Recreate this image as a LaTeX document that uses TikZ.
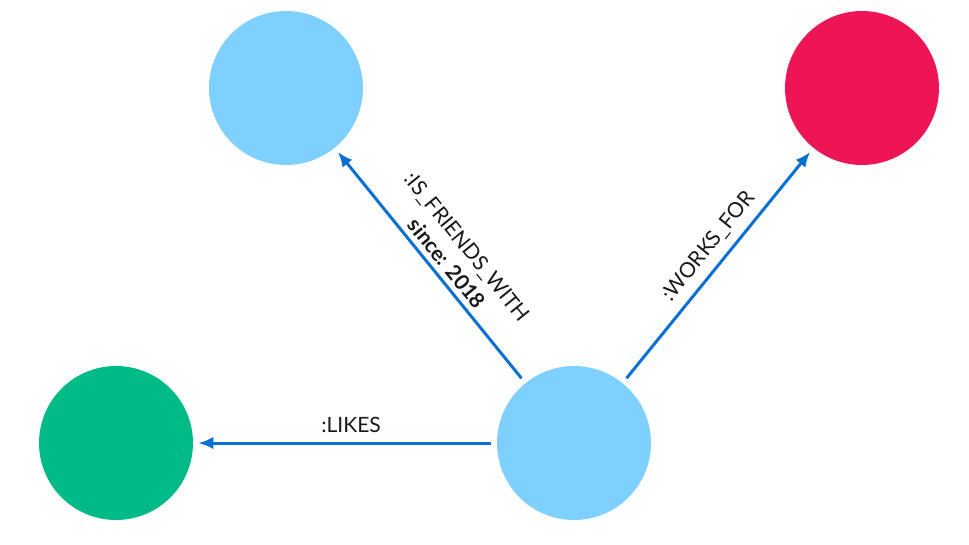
\documentclass[tikz,border=0pt]{standalone}
\usepackage{fontspec}
\setmainfont{Lato}
\usetikzlibrary{arrows.meta}
\definecolor{personblue}{RGB}{125,208,255}
\definecolor{companyred}{RGB}{237,21,86}
\definecolor{thinggreen}{RGB}{0,186,136}
\definecolor{relblue}{RGB}{10,112,212}
\newcommand*{\reltextstyle}{\fontsize{12}{15}\selectfont}

\tikzset{
   entity/.style = {circle, minimum size=3.08cm, inner sep=0pt},
   rel/.style    = {relblue, line width=1.7pt,
                    -{Latex[length=0.3cm,width=0.25cm]},
                    shorten <=0.12cm, shorten >=0.1cm},
   rellabel/.style = {font=\reltextstyle, text=black!90, sloped, above,
                      inner sep=3pt}
}

\begin{document}
\begin{tikzpicture}[x=0.02cm, y=-0.02cm]
   \useasboundingbox (0,0) rectangle (969,544);

   \node[entity, fill=personblue] (friend)  at (286, 88) {};
   \node[entity, fill=companyred] (company) at (862, 88) {};
   \node[entity, fill=thinggreen] (thing)   at (116,443) {};
   \node[entity, fill=personblue] (person)  at (574,443) {};

   \draw[rel] (person) -- (friend)
      node[rellabel, align=center, pos=0.47]
      {:IS\_FRIENDS\_WITH\\[0pt] \textbf{since: 2018}};
   \draw[rel] (person) -- (company)
      node[rellabel, pos=0.53, inner sep=5pt] {:WORKS\_FOR};
   \draw[rel] (person) -- (thing)
      node[rellabel, pos=0.48, inner sep=5pt] {:LIKES};
\end{tikzpicture}
\end{document}
